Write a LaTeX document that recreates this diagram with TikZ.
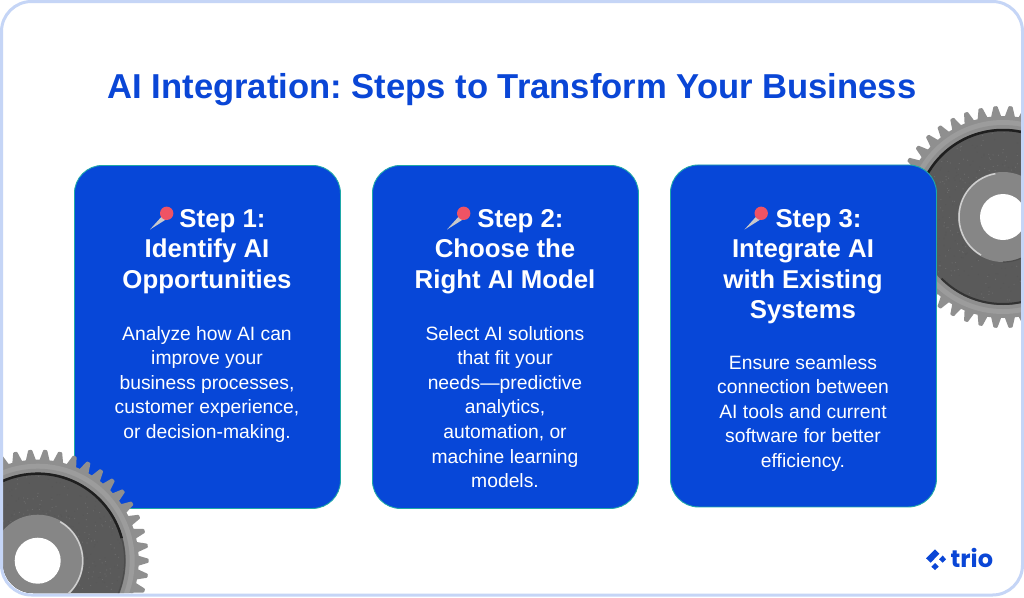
\documentclass[tikz,border=0pt]{standalone}
\usepackage{fontspec}
\setmainfont{Liberation Sans}
\newfontfamily\logofont{Poppins}
\frenchspacing
\definecolor{cardblue}{HTML}{0747D8}
\definecolor{titleblue}{HTML}{0A46D6}
\definecolor{cardedge}{HTML}{1FA8A8}
\definecolor{framecol}{HTML}{C5D5F6}
\definecolor{pinred}{HTML}{EF5364}
\definecolor{needle}{HTML}{C9C9CB}
\definecolor{gearbody}{HTML}{8F8F8F}
\definecolor{geardisk}{HTML}{5A5A5A}
\definecolor{gearhub}{HTML}{868686}
\tikzset{
  cardbox/.style={fill=cardblue,draw=cardedge,line width=0.9pt,rounded corners=28pt,minimum width=266pt,inner sep=0pt,anchor=north west},
  headtext/.style={text=white,align=center,anchor=north,inner sep=0pt,font=\bfseries\fontsize{25.8}{30.5}\selectfont},
  bodytext/.style={text=white,align=center,anchor=north,inner sep=0pt,font=\fontsize{19.3}{24.6}\selectfont},
  pinhead/.style={fill=pinred},
  pinneedle/.style={fill=needle},
  gearteeth/.style={fill=gearbody,draw=gearbody,line width=2pt,line join=round},
}
% gear body: teeth, ring and disk, centred on the scope origin
\newcommand{\gearbase}{%
  \fill[gearteeth]
    (-3.9:100) \foreach \t in {0,1,...,45}{
      -- (\t*7.826-3.9:100) -- (\t*7.826-2.4:100) -- (\t*7.826-0.6:110) -- (\t*7.826+0.6:110) -- (\t*7.826+2.4:100)
    } -- cycle;
  \fill[white!12!gearbody] (0,0) circle (97);
  \fill[gearbody] (0,0) circle (92);
  \fill[geardisk] (0,0) circle (88);
  \pgfmathsetseed{42}
  \foreach \i in {1,...,420}{
    \pgfmathsetmacro{\ang}{rnd*360}
    \pgfmathsetmacro{\rad}{47+rnd*40}
    \pgfmathsetmacro{\shade}{rnd<0.5?30:70}
    \fill[black!\shade!white,opacity=0.22] (\ang:\rad) circle (0.6);
  }
}
\begin{document}
\begin{tikzpicture}[x=1pt,y=-1pt]
\useasboundingbox (0,0) rectangle (1024,597);
\fill[white] (0,0) rectangle (1024,597);
% top-right gear, under card 3
\begin{scope}
  \clip[rounded corners=30pt] (1.5,1.5) rectangle (1022,595);
  \begin{scope}[shift={(1003,217)},yscale=-1]
    \gearbase
    \draw[black!88,line width=2.5pt] (55:87) arc (55:175:87);
    \draw[black!80,line width=2pt] (225:87) arc (225:310:87);
    \fill[gearhub] (0,0) circle (45);
    \draw[white!60!gearhub,line width=1.5pt] (100:44) arc (100:240:44);
    \draw[black!70,line width=1.2pt] (-90:45) arc (-90:-20:45);
    \fill[white] (0,0) circle (23);
  \end{scope}
\end{scope}
% cards
\node[cardbox,minimum height=343pt] (card1) at (74,165) {};
\node[cardbox,minimum height=343pt] (card2) at (372,165) {};
\node[cardbox,minimum height=342pt] (card3) at (670,164.5) {};
% headings
\node[headtext] (head1) at (207,209) {\hspace*{31pt}Step 1:\\Identify AI\\Opportunities};
\node[headtext] (head2) at (505,209) {\hspace*{31pt}Step 2:\\Choose the\\Right AI Model};
\node[headtext] (head3) at (803,209) {\hspace*{31pt}Step 3:\\Integrate AI\\with Existing\\Systems};
% bodies
\node[bodytext] (body1) at (207,326) {Analyze how AI can\\improve your\\business processes,\\customer experience,\\or decision-making.};
\node[bodytext] (body2) at (505,326) {Select AI solutions\\that fit your\\needs—predictive\\analytics,\\automation, or\\machine learning\\models.};
\node[bodytext] (body3) at (803,355) {Ensure seamless\\connection between\\AI tools and current\\software for better\\efficiency.};
% pins
\foreach \px in {150,447,744.5}{
  \fill[pinneedle] (\px,229.5) -- (\px+13.5,214.5) -- (\px+17.5,218.5) -- cycle;
  \fill[pinhead] (\px+16.7,213.3) circle (6.7);
}
% title
\node[text=titleblue,inner sep=0pt,font=\bfseries\fontsize{34.6}{40}\selectfont] (title) at (512,89.5) {AI Integration: Steps to Transform Your Business};
% bottom-left gear, over card 1
\begin{scope}
  \clip[rounded corners=30pt] (3,1.5) rectangle (1022,593);
  \begin{scope}[shift={(37.7,560.7)},yscale=-1]
    \gearbase
    \draw[black!88,line width=2.5pt] (15:87) arc (15:170:87);
    \draw[black!70,line width=1.2pt] (-30:87) arc (-30:15:87);
    \fill[gearhub] (0,0) circle (46);
    \draw[white!60!gearhub,line width=1.5pt] (-60:45) arc (-60:60:45);
    \fill[white] (0,0) circle (23);
  \end{scope}
\end{scope}
% frame
\draw[framecol,line width=3pt,rounded corners=30pt] (1.5,1.5) rectangle (1022.5,595);
% logo
\fill[titleblue] (926,558.3) -- (935,549.3) -- (939.3,553.7) -- (930.7,562.7) -- cycle;
\fill[titleblue] (942.7,555.5) -- (946,559.3) -- (942.7,562.7) -- (939,559.3) -- cycle;
\fill[titleblue] (935,563) -- (938.7,566.7) -- (935,570) -- (931.3,566.7) -- cycle;
\node[text=titleblue,inner sep=0pt,anchor=west,font=\logofont\bfseries\fontsize{24}{24}\selectfont] (logo) at (950.5,558) {trio};
\end{tikzpicture}
\end{document}
